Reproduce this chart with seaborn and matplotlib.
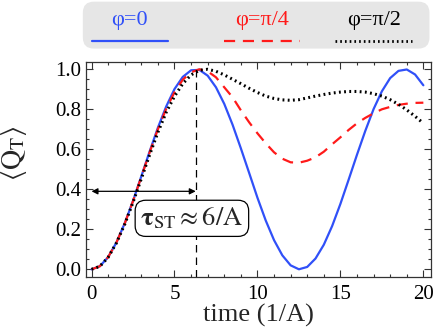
import matplotlib
matplotlib.use("Agg")
import matplotlib.pyplot as plt
from matplotlib.patches import FancyBboxPatch
from matplotlib.lines import Line2D
from matplotlib.ticker import MultipleLocator
import seaborn as sns
import pandas as pd

# values
time = [0.0, 0.5, 1.0, 1.5, 2.0, 2.5, 3.0, 3.5, 4.0, 4.5, 5.0, 5.5, 6.0, 6.5,
        7.0, 7.5, 8.0, 8.5, 9.0, 9.5, 10.0, 10.5, 11.0, 11.5, 12.0, 12.5, 13.0,
        13.5, 14.0, 14.5, 15.0, 15.5, 16.0, 16.5, 17.0, 17.5, 18.0, 18.5, 19.0,
        19.5, 20.0]
q_phi0 = [0.0, 0.0155, 0.061, 0.134, 0.230, 0.342, 0.465, 0.589, 0.708, 0.814,
          0.901, 0.962, 0.995, 0.997, 0.968, 0.910, 0.827, 0.723, 0.605, 0.482,
          0.358, 0.244, 0.146, 0.070, 0.020, 0.0003, 0.012, 0.054, 0.123, 0.216,
          0.327, 0.449, 0.573, 0.692, 0.801, 0.890, 0.956, 0.992, 0.999, 0.974,
          0.920]
q_phi_pi4 = [0.0, 0.0155, 0.061, 0.134, 0.229, 0.341, 0.462, 0.584, 0.700, 0.802,
             0.885, 0.948, 0.985, 1.0, 0.99, 0.96, 0.91, 0.86, 0.795, 0.735,
             0.68, 0.63, 0.585, 0.553, 0.535, 0.533, 0.543, 0.560, 0.588, 0.625,
             0.66, 0.697, 0.73, 0.757, 0.78, 0.80, 0.812, 0.822, 0.828, 0.832,
             0.833]
q_phi_pi2 = [0.0, 0.015, 0.06, 0.132, 0.225, 0.335, 0.453, 0.572, 0.685, 0.785,
             0.865, 0.928, 0.972, 0.995, 1.0, 0.99, 0.972, 0.95, 0.928, 0.905,
             0.884, 0.866, 0.854, 0.847, 0.845, 0.848, 0.857, 0.866, 0.874, 0.881,
             0.886, 0.889, 0.889, 0.886, 0.878, 0.866, 0.848, 0.825, 0.797, 0.765,
             0.73]
labels = ["φ=0", "φ=π/4", "φ=π/2"]
tau_st = 6.28
arrow_level = 0.39

colors = ["#3050f8", "#ff1a1a", "black"]

sns.set_style("ticks")
plt.rcParams["font.family"] = ["Liberation Serif", "DejaVu Serif"]
plt.rcParams["mathtext.fontset"] = "stix"

df = pd.DataFrame({"time": time, labels[0]: q_phi0,
                   labels[1]: q_phi_pi4, labels[2]: q_phi_pi2})

fig = plt.figure(figsize=(4.36, 3.35), dpi=100)
ax = fig.add_axes([0.197, 0.173, 0.7915, 0.642])

sns.lineplot(data=df, x="time", y=labels[0], ax=ax, color=colors[0], linewidth=1.6)
sns.lineplot(data=df, x="time", y=labels[1], ax=ax, color=colors[1], linewidth=1.6,
             linestyle=(0, (5, 3.5)))
sns.lineplot(data=df, x="time", y=labels[2], ax=ax, color=colors[2], linewidth=2.2,
             linestyle=(0, (0.6, 1.1)))

ax.set_xlim(-0.34, 20.46)
ax.set_ylim(-0.0385, 1.0365)
ax.xaxis.set_major_locator(MultipleLocator(5))
ax.xaxis.set_minor_locator(MultipleLocator(1))
ax.yaxis.set_major_locator(MultipleLocator(0.2))
ax.yaxis.set_minor_locator(MultipleLocator(0.05))
ax.yaxis.set_major_formatter(matplotlib.ticker.FormatStrFormatter("%.1f"))
ax.tick_params(which="both", direction="in", top=True, right=True,
               labelsize=15, width=0.8, colors="#333333", labelcolor="black")
ax.tick_params(which="major", length=5)
ax.tick_params(axis="x", which="major", pad=6)
ax.tick_params(which="minor", length=2.5)
for s in ax.spines.values():
    s.set_linewidth(0.9)
    s.set_color("#333333")

ax.set_xlabel("time (1/A)", fontsize=19, labelpad=0)
ax.set_ylabel(r"$\left\langle \mathrm{Q}_\mathrm{T}\right\rangle$", fontsize=20)
ax.yaxis.set_label_coords(-0.165, 0.575)

# annotation: vertical dashed line, double arrow, text box
ax.plot([tau_st, tau_st], [-0.0385, 1.0], color="black", linewidth=0.9,
        linestyle=(0, (6, 4)))
ax.annotate("", xy=(0.0, arrow_level), xytext=(tau_st, arrow_level),
            arrowprops=dict(arrowstyle="<|-|>", color="black", lw=0.9,
                            mutation_scale=9, shrinkA=0, shrinkB=0))
ax.text(6.05, 0.255, r"$\mathbf{\tau}_\mathrm{ST}\approx6/\mathrm{A}$",
        fontsize=19, ha="center", va="center",
        bbox=dict(boxstyle="round,pad=0.2,rounding_size=0.4", fc="white",
                  ec="black", lw=0.9))

# legend panel above the axes
fig.patches.append(FancyBboxPatch((0.19, 0.855), 0.795, 0.14,
                                  boxstyle="round,pad=0,rounding_size=0.025",
                                  transform=fig.transFigure, fc="#e6e6e6",
                                  ec="none", mutation_aspect=436 / 335))
legend_x = [0.298, 0.601, 0.857]
line_styles = ["-", (0, (5, 3.5)), (0, (0.6, 1.1))]
line_widths = [1.6, 1.6, 2.0]
for lx, lab, c, ls, lw in zip(legend_x, labels, colors, line_styles, line_widths):
    fig.text(lx, 0.94, lab, color=c, fontsize=16, ha="center", va="center")
    fig.add_artist(Line2D([lx - 0.088, lx + 0.088], [0.877, 0.877],
                          transform=fig.transFigure, color=c, linestyle=ls,
                          linewidth=lw))

plt.savefig("out.png", dpi=100)
